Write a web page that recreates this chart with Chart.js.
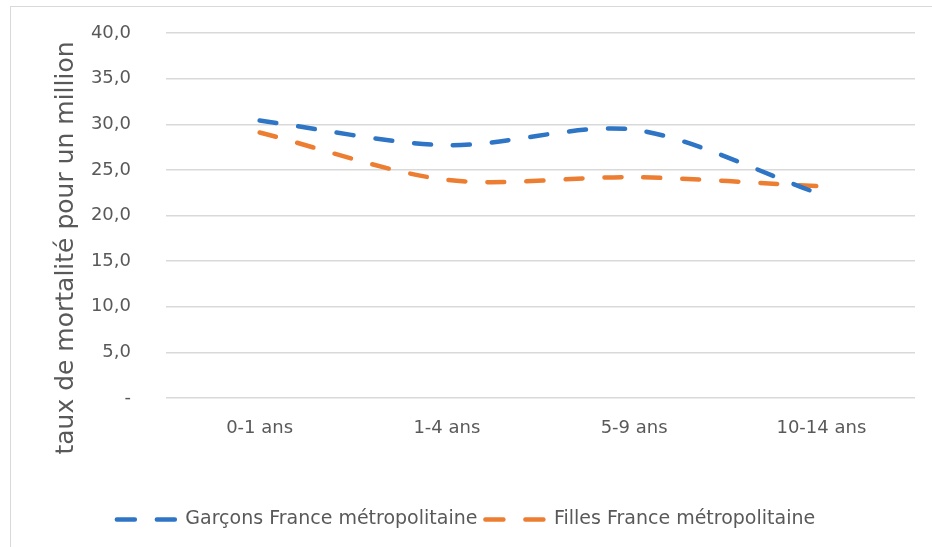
<!DOCTYPE html>
<html>
<head>
<meta charset="utf-8">
<script src="https://cdn.jsdelivr.net/npm/chart.js@4.4.1/dist/chart.umd.min.js"></script>
<style>
  html, body { margin: 0; padding: 0; background: #ffffff; }
  #wrap { position: relative; width: 932px; height: 547px; overflow: hidden; }
  #frame { position: absolute; left: 10px; top: 6px; width: 960px; height: 580px; border: 1px solid #d9d9d9; box-sizing: border-box; }
  canvas { position: absolute; left: 0; top: 0; }
</style>
</head>
<body>
<div id="wrap">
  <div id="frame"></div>
  <canvas id="c" width="932" height="547"></canvas>
</div>
<script>
const categories = ['0-1 ans', '1-4 ans', '5-9 ans', '10-14 ans'];
const garcons = [30.4, 27.7, 29.4, 22.3];
const filles = [29.1, 23.9, 24.2, 23.2];
const seriesNames = ['Garçons France métropolitaine', 'Filles France métropolitaine'];
const yTitle = 'taux de mortalité pour un million';

const FONT = "'DejaVu Sans', sans-serif";
const TEXT = '#595959';
const DASH = [17, 22];

const titlePlugin = {
  id: 'ytitle',
  afterDraw(chart) {
    const ctx = chart.ctx;
    ctx.save();
    ctx.translate(66, 248);
    ctx.rotate(-Math.PI / 2);
    ctx.font = "25px " + FONT;
    ctx.fillStyle = TEXT;
    ctx.textAlign = 'center';
    ctx.textBaseline = 'middle';
    ctx.fillText(yTitle, 0, 0);
    ctx.restore();
  }
};

new Chart(document.getElementById('c'), {
  type: 'line',
  data: {
    labels: categories,
    datasets: [
      {
        label: seriesNames[0],
        data: garcons,
        borderColor: '#2e75c6',
        backgroundColor: '#2e75c6',
        borderWidth: 4.5,
        borderDash: DASH,
        borderCapStyle: 'round',
        pointRadius: 0,
        tension: 0.3,
        fill: false
      },
      {
        label: seriesNames[1],
        data: filles,
        borderColor: '#ed7d31',
        backgroundColor: '#ed7d31',
        borderWidth: 4.5,
        borderDash: DASH,
        borderCapStyle: 'round',
        pointRadius: 0,
        tension: 0.3,
        fill: false
      }
    ]
  },
  options: {
    responsive: false,
    animation: false,
    layout: { padding: { left: 17, right: 17, top: 33, bottom: 8 } },
    plugins: {
      legend: {
        position: 'bottom',
        labels: {
          usePointStyle: true,
          pointStyle: 'line',
          pointStyleWidth: 59,
          boxHeight: 18,
          padding: 8,
          color: TEXT,
          font: { family: FONT, size: 19 },
          generateLabels(chart) {
            const items = Chart.defaults.plugins.legend.labels.generateLabels(chart);
            items.forEach((it) => {
              const ds = chart.data.datasets[it.datasetIndex];
              it.lineDash = [18, 22];
              it.lineCap = 'round';
              it.lineWidth = ds.borderWidth;
              it.strokeStyle = ds.borderColor;
              it.fillStyle = ds.borderColor;
              it.pointStyle = 'line';
            });
            return items;
          }
        }
      },
      tooltip: { enabled: false }
    },
    scales: {
      x: {
        offset: true,
        grid: { display: false },
        border: { display: false },
        ticks: { color: TEXT, font: { family: FONT, size: 18 }, padding: 12 },
        afterFit(scale) { scale.height = 104; }
      },
      y: {
        min: 0,
        max: 40,
        ticks: {
          stepSize: 5,
          color: TEXT,
          padding: 0,
          font: { family: FONT, size: 18 },
          callback: (v) => v === 0 ? '-' : v.toFixed(1).replace('.', ',')
        },
        grid: { color: '#d9d9d9', lineWidth: 1.5, drawTicks: true, tickLength: 35, tickColor: 'rgba(0,0,0,0)' },
        border: { display: false },
        afterFit(scale) { scale.width = 149; }
      }
    }
  },
  plugins: [titlePlugin]
});
</script>
</body>
</html>
